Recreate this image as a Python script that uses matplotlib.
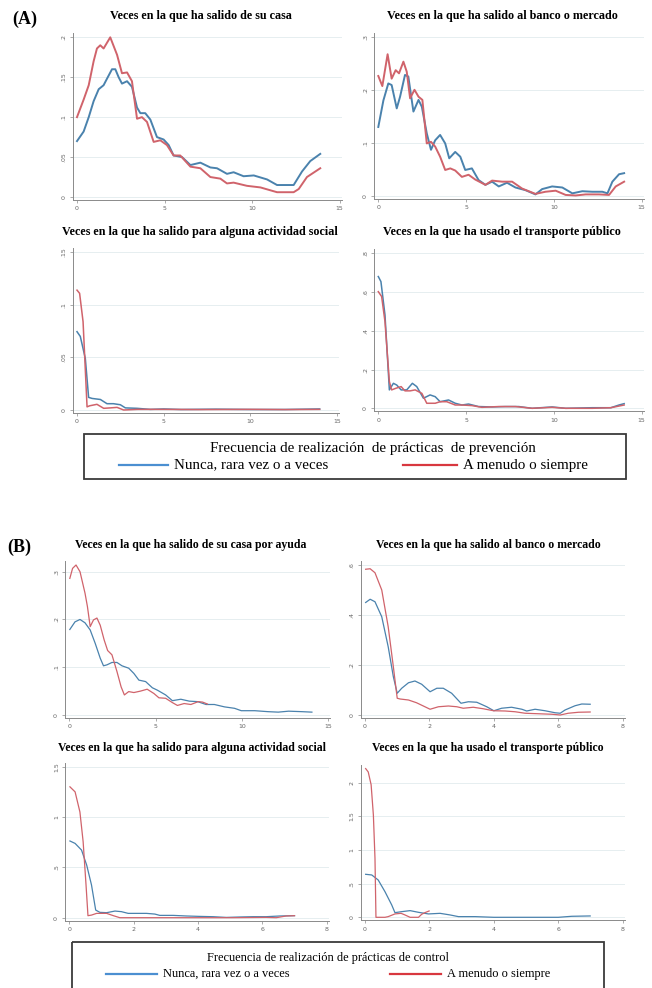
"""Kernel-density style curves of outings by prevention/control practice frequency.

Two blocks (A: prevention, B: control), four panels each, shared boxed legend
under each block. Layout is placed in pixel units so it lines up with the source.
"""
import matplotlib
matplotlib.use("Agg")
import matplotlib.pyplot as plt  # noqa: E402
from matplotlib.patches import Rectangle  # noqa: E402

W, H = 652, 988
BLUE, RED = "#4a82ad", "#d0636b"
LEG_BLUE, LEG_RED = "#4b8fd1", "#d8373f"
SERIF = "Liberation Serif"

# ---- data: (A) prevention -------------------------------------------------
a_casa_bx = [0, 0.38, 0.67, 0.95, 1.24, 1.52, 1.71, 2.0, 2.19, 2.38, 2.57, 2.86, 3.14, 3.43,
             3.62, 3.9, 4.19, 4.57, 4.95, 5.24, 5.52, 6.0, 6.48, 7.05, 7.62, 8.0, 8.57, 8.95,
             9.52, 10.1, 10.86, 11.43, 12.38, 12.86, 13.33, 13.9]
a_casa_by = [.070, .082, .100, .120, .135, .140, .148, .160, .160, .150, .142, .145, .138, .112,
             .105, .105, .097, .075, .072, .065, .052, .050, .040, .043, .037, .036, .029, .031,
             .026, .027, .022, .015, .015, .032, .045, .054]
a_casa_rx = [0, 0.38, 0.67, 0.95, 1.14, 1.33, 1.52, 1.9, 2.29, 2.57, 2.86, 3.14, 3.43, 3.71,
             4.0, 4.38, 4.76, 5.14, 5.52, 5.9, 6.48, 7.05, 7.62, 8.19, 8.57, 8.95, 9.71, 10.48,
             11.43, 12.38, 12.67, 13.14, 13.9]
a_casa_ry = [.100, .122, .140, .170, .186, .190, .186, .200, .178, .155, .156, .145, .098, .100,
             .094, .069, .071, .065, .052, .052, .038, .036, .025, .023, .017, .018, .014, .012,
             .006, .006, .010, .025, .036]

a_banco_bx = [0, 0.29, 0.57, 0.76, 1.05, 1.24, 1.52, 1.71, 2.0, 2.29, 2.48, 2.76, 3.0, 3.24,
              3.52, 3.81, 4.04, 4.38, 4.67, 4.95, 5.33, 5.71, 6.1, 6.48, 6.86, 7.33, 7.81, 8.38,
              8.95, 9.33, 9.9, 10.48, 11.05, 11.62, 12.19, 12.76, 13.05, 13.33, 13.71, 14.0]
a_banco_by = [.130, .180, .212, .209, .165, .187, .228, .225, .159, .181, .168, .118, .087, .105,
              .115, .099, .071, .083, .074, .049, .052, .030, .021, .027, .018, .025, .016, .011,
              .003, .013, .018, .016, .005, .009, .008, .008, .005, .027, .041, .043]
a_banco_rx = [0, 0.23, 0.53, 0.76, 0.99, 1.18, 1.43, 1.62, 1.81, 2.06, 2.29, 2.51, 2.76, 3.0,
              3.24, 3.52, 3.81, 4.1, 4.38, 4.76, 5.14, 5.52, 6.1, 6.48, 7.05, 7.62, 8.19, 8.95,
              9.52, 10.1, 10.67, 11.24, 11.81, 12.57, 13.14, 13.52, 14.0]
a_banco_ry = [.226, .207, .267, .221, .237, .231, .253, .234, .184, .200, .187, .181, .099, .102,
              .093, .074, .049, .052, .048, .036, .040, .031, .021, .029, .027, .027, .014, .004,
              .008, .010, .002, .001, .003, .003, .002, .018, .027]

a_social_bx = [0, 0.19, 0.48, 0.67, 0.87, 1.35, 1.73, 2.1, 2.5, 2.79, 3.46, 4.23, 5.0, 6.0, 8.0,
               10.0, 12.0, 14.0]
a_social_by = [.0745, .070, .049, .012, .011, .010, .006, .006, .005, .002, .0016, .0006, .001,
               .0005, .0008, .0005, .0005, .001]
a_social_rx = [0, 0.15, 0.35, 0.58, 0.73, 1.15, 1.54, 1.92, 2.31, 2.69, 3.5, 5.0, 7.0, 10.0,
               12.0, 14.0]
a_social_ry = [.114, .111, .084, .003, .004, .0054, .0016, .002, .0025, 0, .0006, .0006, .0004,
               .0006, .0004, .0006]

a_trans_bx = [0, 0.15, 0.38, 0.63, 0.86, 1.05, 1.3, 1.62, 1.94, 2.19, 2.57, 2.95, 3.24, 3.52,
              4.0, 4.38, 4.76, 5.14, 5.71, 6.48, 7.24, 8.0, 8.76, 9.9, 10.67, 12.19, 13.24,
              13.71, 14.0]
a_trans_by = [.68, .654, .482, .095, .129, .12, .095, .095, .129, .112, .052, .069, .06, .034,
              .043, .026, .017, .022, .009, .007, .009, .009, 0, .007, 0, .003, .003, .017, .024]
a_trans_rx = [0, 0.19, 0.38, 0.63, 0.76, 0.99, 1.3, 1.52, 1.81, 2.1, 2.48, 2.76, 3.24, 3.52,
              3.9, 4.38, 4.76, 5.33, 5.9, 6.86, 7.81, 8.76, 9.9, 10.67, 12.19, 13.24, 14.0]
a_trans_ry = [.602, .577, .448, .138, .095, .103, .112, .09, .09, .095, .077, .026, .026, .034,
              .034, .017, .017, .014, .005, .009, .009, 0, .005, 0, 0, .003, .017]

# ---- data: (B) control ----------------------------------------------------
b_casa_bx = [0.03, 0.33, 0.62, 0.91, 1.21, 1.5, 1.79, 1.98, 2.18, 2.47, 2.76, 3.05, 3.44, 3.74,
             4.03, 4.42, 4.81, 5.1, 5.58, 5.97, 6.46, 6.95, 7.43, 7.92, 8.4, 8.99, 9.57, 9.96,
             10.74, 11.5, 12.1, 12.7, 13.46, 14.05]
b_casa_by = [.179, .195, .2, .193, .178, .15, .119, .103, .105, .11, .11, .103, .098, .087, .073,
             .07, .057, .052, .042, .03, .033, .029, .028, .022, .022, .017, .014, .009, .009,
             .007, .006, .008, .007, .006]
b_casa_rx = [0.03, 0.19, 0.39, 0.62, 0.91, 1.05, 1.21, 1.4, 1.6, 1.79, 2.02, 2.22, 2.47, 2.76,
             3.0, 3.19, 3.44, 3.74, 4.12, 4.51, 4.9, 5.19, 5.58, 5.97, 6.26, 6.65, 7.04, 7.47,
             7.72, 8.0]
b_casa_ry = [.286, .307, .314, .3, .255, .227, .185, .199, .203, .188, .157, .135, .126, .091,
             .059, .042, .049, .047, .05, .054, .045, .036, .035, .026, .02, .024, .022, .028,
             .027, .023]

b_banco_bx = [0.02, 0.16, 0.31, 0.52, 0.72, 0.88, 1.0, 1.14, 1.35, 1.55, 1.76, 2.02, 2.23, 2.43,
              2.69, 2.98, 3.21, 3.47, 3.78, 4.0, 4.24, 4.55, 4.87, 5.02, 5.28, 5.59, 5.9, 6.06,
              6.21, 6.52, 6.73, 6.99]
b_banco_by = [.45, .463, .453, .393, .273, .153, .087, .107, .129, .136, .123, .093, .107, .107,
              .087, .047, .053, .051, .033, .017, .027, .031, .023, .016, .023, .017, .009, .007,
              .02, .037, .044, .043]
b_banco_rx = [0.02, 0.16, 0.31, 0.52, 0.72, 0.88, 1.0, 1.09, 1.35, 1.6, 1.86, 2.02, 2.28, 2.59,
              2.85, 3.05, 3.36, 3.67, 3.99, 4.35, 4.66, 4.97, 5.38, 5.8, 6.06, 6.31, 6.63, 6.99]
b_banco_ry = [.583, .585, .569, .5, .353, .193, .067, .064, .06, .049, .033, .023, .033, .036,
              .033, .027, .031, .025, .017, .016, .013, .007, .005, .003, 0, .007, .011, .012]

b_social_bx = [0.02, 0.18, 0.38, 0.54, 0.69, 0.82, 0.95, 1.16, 1.42, 1.62, 1.83, 2.09, 2.4, 2.66,
               2.81, 3.23, 3.64, 4.05, 4.47, 4.88, 5.29, 5.71, 6.12, 6.54, 7.0]
b_social_by = [.762, .738, .672, .523, .325, .076, .053, .05, .066, .06, .043, .043, .043, .036,
               .023, .023, .017, .013, .01, .003, .007, .01, .01, .017, .02]
b_social_rx = [0.02, 0.18, 0.33, 0.43, 0.52, 0.58, 0.69, 0.85, 1.16, 1.37, 1.57, 2.0, 3.0, 4.0,
               5.09, 6.12, 6.43, 6.74, 7.0]
b_social_ry = [1.3, 1.25, 1.05, .755, .325, .02, .026, .043, .043, .02, 0, 0, 0, 0, 0, .003, 0,
               .017, .02]

b_trans_bx = [0.02, 0.21, 0.41, 0.62, 0.83, 0.93, 1.14, 1.4, 1.66, 1.97, 2.33, 2.64, 2.9, 3.42,
              4.0, 4.97, 6.0, 6.42, 6.99]
b_trans_by = [.639, .629, .554, .381, .183, .069, .084, .099, .074, .05, .059, .035, .01, .01, 0,
              0, 0, .015, .02]
b_trans_rx = [0.02, 0.1, 0.19, 0.26, 0.31, 0.34, 0.62, 0.72, 0.93, 1.12, 1.24, 1.4, 1.66, 1.76,
              1.86, 1.99]
b_trans_ry = [2.21, 2.16, 1.97, 1.52, .876, 0, 0, .01, .05, .059, .035, 0, 0, .045, .069, .094]

# ---- axis ticks / labels ---------------------------------------------------
x15_ticks = [0, 5, 10, 15]
x8_ticks = [0, 2, 4, 6, 8]
yt_a_casa, yl_a_casa = [0, .05, .1, .15, .2], ["0", ".05", ".1", ".15", ".2"]
yt_a_banco, yl_a_banco = [0, .1, .2, .3], ["0", ".1", ".2", ".3"]
yt_a_social, yl_a_social = [0, .05, .1, .15], ["0", ".05", ".1", ".15"]
yt_a_trans, yl_a_trans = [0, .2, .4, .6, .8], ["0", ".2", ".4", ".6", ".8"]
yt_b_casa, yl_b_casa = [0, .1, .2, .3], ["0", ".1", ".2", ".3"]
yt_b_banco, yl_b_banco = [0, .2, .4, .6], ["0", ".2", ".4", ".6"]
yt_b_social, yl_b_social = [0, .5, 1, 1.5], ["0", ".5", "1", "1.5"]
yt_b_trans, yl_b_trans = [0, .5, 1, 1.5, 2], ["0", ".5", "1", "1.5", "2"]

TITLES_A = ["Veces en la que ha salido de su casa",
            "Veces en la que ha salido al banco o mercado",
            "Veces en la que ha salido para alguna actividad social",
            "Veces en la que ha usado el transporte público"]
TITLES_B = ["Veces en la que ha salido de su casa por ayuda",
            "Veces en la que ha salido al banco o mercado",
            "Veces en la que ha salido para alguna actividad social",
            "Veces en la que ha usado el transporte público"]
LEG_TITLE_A = "Frecuencia de realización  de prácticas  de prevención"
LEG_TITLE_B = "Frecuencia de realización de prácticas de control"
LEG_LABELS = ["Nunca, rara vez o a veces", "A menudo o siempre"]


def panel(fig, x0, xpx, xv, y0, ypx, yv, xmax, ytop, pad=4):
    """Axes whose data x=0 / y=0 land on pixel (x0, y0); xv, yv land on xpx, ypx."""
    sx = (xpx - x0) / xv
    sy = (y0 - ypx) / yv
    xlo, xhi = -pad / sx, xmax + 2 / sx
    ylo, yhi = -3 / sy, ytop + pad / sy
    left, right = x0 + xlo * sx, x0 + xhi * sx
    bottom, top = y0 - ylo * sy, y0 - yhi * sy
    ax = fig.add_axes([left / W, 1 - bottom / H, (right - left) / W, (bottom - top) / H])
    ax.set_xlim(xlo, xhi)
    ax.set_ylim(ylo, yhi)
    for s in ("top", "right"):
        ax.spines[s].set_visible(False)
    for s in ("left", "bottom"):
        ax.spines[s].set_color("#8a8a8a")
        ax.spines[s].set_linewidth(0.7)
    ax.tick_params(length=2.5, width=0.5, color="#8a8a8a", labelsize=4.5,
                   labelcolor="#666666", pad=2)
    ax.grid(axis="y", color="#e6eef0", lw=0.7)
    ax.set_axisbelow(True)
    return ax


def draw(ax, bx, by, rx, ry, xticks, yticks, ylabels, lw):
    ax.plot(bx, by, color=BLUE, lw=lw, solid_joinstyle="round")
    ax.plot(rx, ry, color=RED, lw=lw, solid_joinstyle="round")
    ax.set_xticks(xticks)
    ax.set_xticklabels([str(t) for t in xticks])
    ax.set_yticks(yticks)
    ax.set_yticklabels(ylabels, rotation=90, va="center")


def legend_box(ov, x0, y0, x1, y1, title, fs, title_xy, blue_seg, red_seg, ty):
    ov.add_patch(Rectangle((x0, y0), x1 - x0, y1 - y0, fill=False, ec="#3a3a3a", lw=1.3))
    ov.text(*title_xy, title, family=SERIF, fontsize=fs, ha="center", va="center")
    for (a, b), col, lab in ((blue_seg, LEG_BLUE, LEG_LABELS[0]), (red_seg, LEG_RED, LEG_LABELS[1])):
        ov.plot([a, b], [ty, ty], color=col, lw=1.6)
        ov.text(b + 6, ty, lab, family=SERIF, fontsize=fs, ha="left", va="center")


def main():
    fig = plt.figure(figsize=(W / 100, H / 100), dpi=100)
    ov = fig.add_axes([0, 0, 1, 1])
    ov.set_xlim(0, W)
    ov.set_ylim(H, 0)
    ov.axis("off")

    # block A
    ax = panel(fig, 77, 339.5, 15, 197, 37.3, .2, 15, .2)
    draw(ax, a_casa_bx, a_casa_by, a_casa_rx, a_casa_ry, x15_ticks, yt_a_casa, yl_a_casa, 1.4)
    ax = panel(fig, 378.3, 641.7, 15, 196, 36.7, .3, 15, .3)
    draw(ax, a_banco_bx, a_banco_by, a_banco_rx, a_banco_ry, x15_ticks, yt_a_banco, yl_a_banco, 1.4)
    ax = panel(fig, 77, 337, 15, 410, 252.3, .15, 15, .15)
    draw(ax, a_social_bx, a_social_by, a_social_rx, a_social_ry, x15_ticks, yt_a_social,
         yl_a_social, 1.1)
    ax = panel(fig, 378.3, 641.7, 15, 408.3, 253.3, .8, 15, .8)
    draw(ax, a_trans_bx, a_trans_by, a_trans_rx, a_trans_ry, x15_ticks, yt_a_trans, yl_a_trans, 1.1)

    # block B
    ax = panel(fig, 69.3, 328.3, 15, 715, 571.7, .3, 15, .314)
    draw(ax, b_casa_bx, b_casa_by, b_casa_rx, b_casa_ry, x15_ticks, yt_b_casa, yl_b_casa, 0.9)
    ax = panel(fig, 365, 622.7, 8, 715, 565, .6, 8, .6)
    draw(ax, b_banco_bx, b_banco_by, b_banco_rx, b_banco_ry, x8_ticks, yt_b_banco, yl_b_banco, 0.9)
    ax = panel(fig, 69.3, 326.7, 8, 917.7, 766.7, 1.5, 8, 1.5)
    draw(ax, b_social_bx, b_social_by, b_social_rx, b_social_ry, x8_ticks, yt_b_social,
         yl_b_social, 0.9)
    ax = panel(fig, 365, 622.7, 8, 917.3, 782.7, 2, 8, 2.21)
    draw(ax, b_trans_bx, b_trans_by, b_trans_rx, b_trans_ry, x8_ticks, yt_b_trans, yl_b_trans, 0.9)

    # titles
    for (cx, cy), t in zip([(201, 16), (502, 16), (200, 232), (502, 232)], TITLES_A):
        ov.text(cx, cy, t, family=SERIF, weight="bold", fontsize=8.7, ha="center", va="center")
    for (cx, cy), t in zip([(191, 545), (488, 545), (192, 748), (488, 748)], TITLES_B):
        ov.text(cx, cy, t, family=SERIF, weight="bold", fontsize=8.5, ha="center", va="center")
    ov.text(12, 19, "(A)", family=SERIF, weight="bold", fontsize=13, ha="left", va="center")
    ov.text(7, 547, "(B)", family=SERIF, weight="bold", fontsize=13, ha="left", va="center")

    # legends
    legend_box(ov, 84, 434, 626, 479, LEG_TITLE_A, 10.8, (373, 448), (119, 168), (403, 457), 465)
    legend_box(ov, 72, 942, 604, 1000, LEG_TITLE_B, 8.9, (328, 958), (106, 157), (390, 441), 974)

    fig.savefig("out.png", dpi=100)
    plt.close(fig)


if __name__ == "__main__":
    main()
